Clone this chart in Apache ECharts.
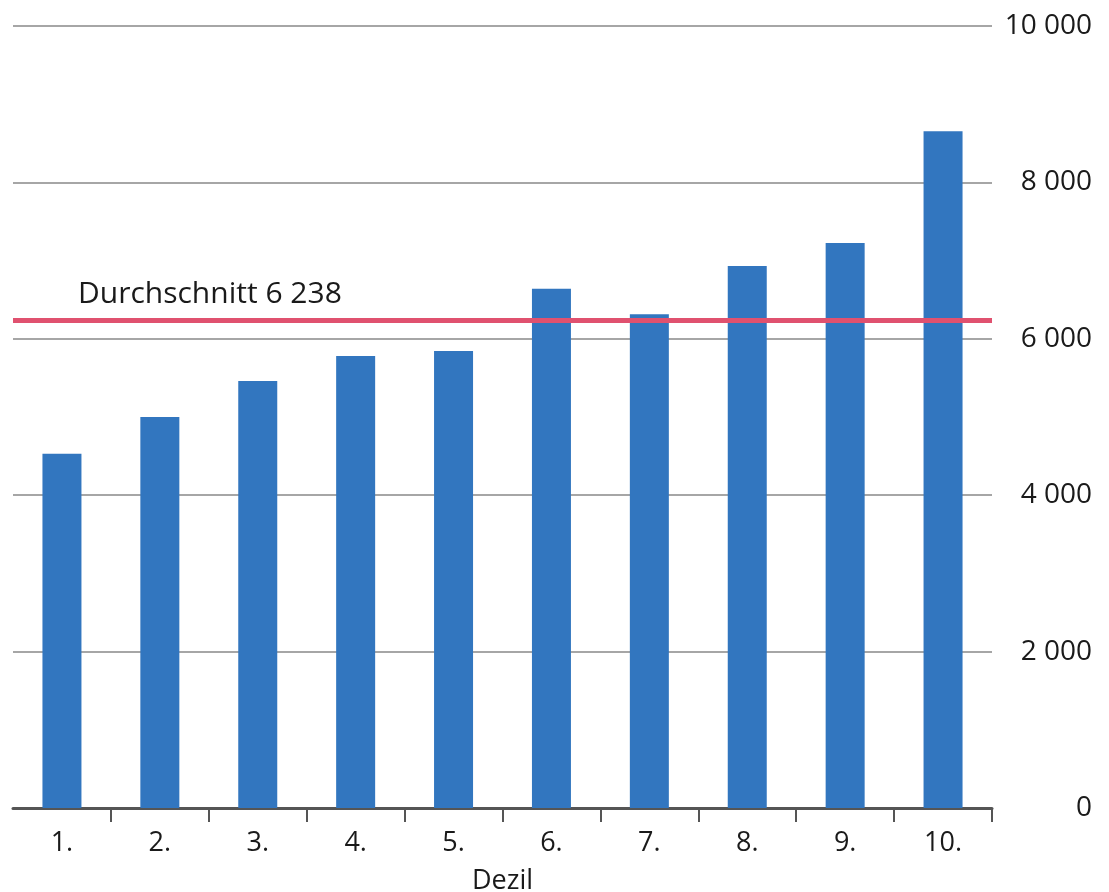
<!DOCTYPE html>
<html>
<head>
<meta charset="utf-8">
<script src="https://cdn.jsdelivr.net/npm/echarts@6/dist/echarts.min.js"></script>
<style>
  html, body { margin: 0; padding: 0; background: #fff; }
  #chart { width: 1109px; height: 892px; }
</style>
</head>
<body>
<div id="chart"></div>
<script>
// Dezile und Werte
const deciles = ['1.', '2.', '3.', '4.', '5.', '6.', '7.', '8.', '9.', '10.']
const values = [4530, 5000, 5460, 5780, 5845, 6640, 6315, 6930, 7225, 8655]
const average = 6238
const averageLabel = 'Durchschnitt 6 238'

const fontFamily = '"Open Sans", "Noto Sans", sans-serif'
const chart = echarts.init(document.getElementById('chart'))

chart.setOption({
  animation: false,
  grid: { left: 13, right: 117, top: 26, bottom: 84, outerBoundsMode: 'none' },
  xAxis: {
    type: 'category',
    data: deciles,
    name: 'Dezil',
    nameLocation: 'middle',
    nameGap: 60,
    nameTextStyle: { fontSize: 27, color: '#1a1a1a', fontFamily },
    axisLine: { lineStyle: { color: '#555', width: 3 } },
    axisTick: {
      show: true,
      length: 14,
      interval: (i) => i > 0 && i < deciles.length,
      lineStyle: { color: '#555', width: 2 }
    },
    axisLabel: { fontSize: 27, color: '#1a1a1a', margin: 22, fontFamily }
  },
  yAxis: {
    type: 'value',
    position: 'right',
    min: 0,
    max: 10000,
    interval: 2000,
    axisLine: { show: false },
    axisTick: { show: false },
    splitLine: { lineStyle: { color: '#a6a6a6', width: 2 } },
    axisLabel: {
      fontSize: 28,
      color: '#1a1a1a',
      align: 'right',
      margin: 100,
      fontFamily,
      formatter: (v) => v.toLocaleString('en-US').replace(/,/g, ' ')
    }
  },
  series: [{
    type: 'bar',
    data: values,
    barWidth: 39,
    itemStyle: { color: '#3276bf' },
    markLine: {
      silent: true,
      symbol: 'none',
      lineStyle: { color: '#e0516f', width: 5, type: 'solid' },
      label: {
        position: 'insideStartTop',
        formatter: averageLabel,
        fontSize: 30,
        color: '#1a1a1a',
        fontFamily,
        distance: [65, 11]
      },
      data: [{ yAxis: average }]
    }
  }]
})
</script>
</body>
</html>
